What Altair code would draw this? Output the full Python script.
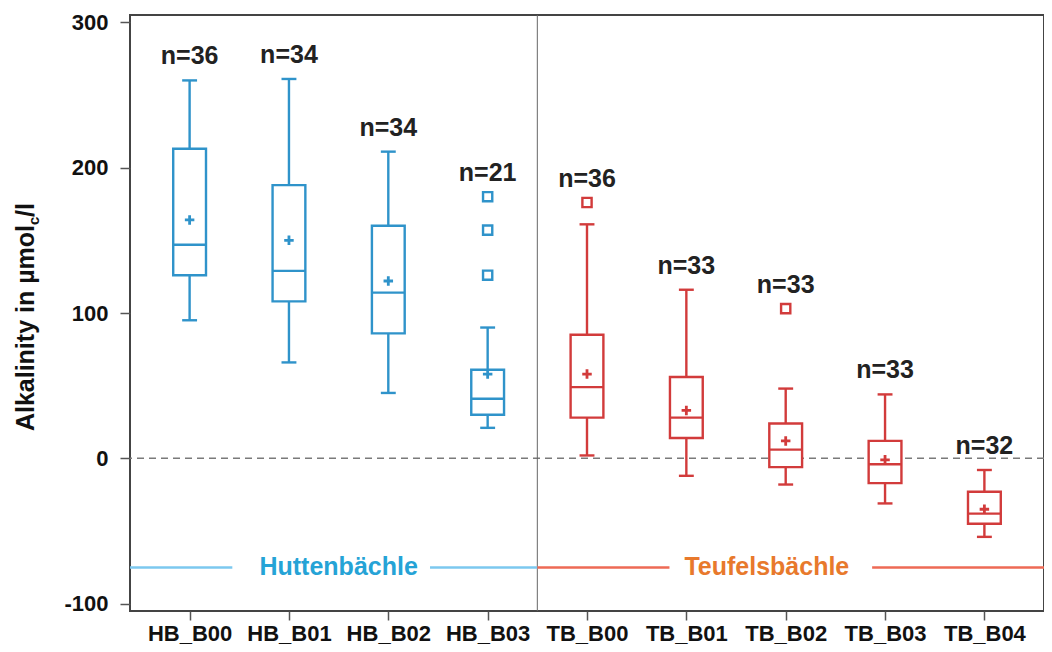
import json
import altair as alt
import pandas as pd

# ---------------- data ----------------
sites = ["HB_B00", "HB_B01", "HB_B02", "HB_B03",
         "TB_B00", "TB_B01", "TB_B02", "TB_B03", "TB_B04"]
stream = ["HB", "HB", "HB", "HB", "TB", "TB", "TB", "TB", "TB"]
n_obs = [36, 34, 34, 21, 36, 33, 33, 33, 32]
whisker_low = [95, 66, 45, 21, 2, -12, -18, -31, -54]
q1 = [126, 108, 86, 30, 28, 14, -6, -17, -45]
median = [147, 129, 114, 41, 49, 28, 6, -4, -38]
q3 = [213, 188, 160, 61, 85, 56, 24, 12, -23]
whisker_high = [260, 261, 211, 90, 161, 116, 48, 44, -8]
mean = [164, 150, 122, 58, 58, 33, 12, -1, -35]

outlier_site = ["HB_B03", "HB_B03", "HB_B03", "TB_B00", "TB_B02"]
outlier_value = [180, 157, 126, 176, 103]

stream_label = ["Huttenbächle", "Teufelsbächle"]
y_ticks = [-100, 0, 100, 200, 300]

# ---------------- styling ----------------
BLUE = "#2F93CA"
RED = "#D23B3B"
BLUE_LINE = "#7CC8EF"
RED_LINE = "#EE6A55"
BLUE_TEXT = "#25A3D6"
ORANGE_TEXT = "#E8792C"
FONT = "Liberation Sans"
BOX_HALF = 0.165
CAP_HALF = 0.075

# ---------------- tables ----------------
idx = list(range(len(sites)))
df = pd.DataFrame({
    "i": idx, "site": sites, "stream": stream, "n": n_obs,
    "lo": whisker_low, "q1": q1, "med": median, "q3": q3,
    "hi": whisker_high, "mean": mean,
})
out = pd.DataFrame({"site": outlier_site, "val": outlier_value})
out["i"] = out["site"].map({s: k for k, s in enumerate(sites)})
out["stream"] = out["site"].str[:2]
max_out = out.groupby("site")["val"].max()
df["top"] = [max(h, max_out.get(s, h)) for s, h in zip(sites, whisker_high)]
df["label"] = ["n=%d" % v for v in n_obs]

ref0 = pd.DataFrame({"y": [0]})
divider = pd.DataFrame({"x": [3.5]})
seg = pd.DataFrame({
    "x": [-0.6, 2.42, 3.5, 6.87],
    "x2": [0.43, 3.5, 4.83, 8.6],
    "y": [-75, -75, -75, -75],
    "col": [BLUE_LINE, BLUE_LINE, RED_LINE, RED_LINE],
})
grp = pd.DataFrame({
    "x": [1.5, 5.81], "y": [-75, -75],
    "name": stream_label, "col": [BLUE_TEXT, ORANGE_TEXT],
})

# ---------------- scales / axes ----------------
xscale = alt.Scale(domain=[-0.6, 8.6], nice=False, zero=False)
yscale = alt.Scale(domain=[-105, 305], nice=False, zero=False)
xaxis = alt.Axis(
    values=idx, labelExpr=json.dumps(sites) + "[datum.value]",
    title="", grid=False, domain=False, tickSize=9, tickColor="#555",
    tickWidth=1.5, labelFont=FONT, labelFontSize=22, labelFontWeight="bold",
    labelColor="#111", labelPadding=3,
)
yaxis = alt.Axis(
    values=y_ticks, labelExpr="'' + datum.value", title="", grid=False,
    domain=False, tickSize=10, tickColor="#555", tickWidth=1.5,
    labelFont=FONT, labelFontSize=22, labelFontWeight="bold",
    labelColor="#111", labelPadding=12,
)


def X(f):
    return alt.X(f, type="quantitative", scale=xscale, axis=xaxis)


def Y(f):
    return alt.Y(f, type="quantitative", scale=yscale, axis=yaxis)


col_scale = alt.Scale(domain=["HB", "TB"], range=[BLUE, RED])
color = alt.Color("stream:N", scale=col_scale, legend=None)
stroke = alt.Stroke("stream:N", scale=col_scale, legend=None)

base = alt.Chart(df).transform_calculate(
    bl="datum.i - %f" % BOX_HALF, br="datum.i + %f" % BOX_HALF,
    cl="datum.i - %f" % CAP_HALF, cr="datum.i + %f" % CAP_HALF,
)

zero_line = alt.Chart(ref0).mark_rule(
    color="#7a7a7a", strokeDash=[7, 5], strokeWidth=1.5
).encode(y=Y("y"))

div_line = alt.Chart(divider).mark_rule(color="#666", strokeWidth=1).encode(x=X("x"))

w_up = base.mark_rule(strokeWidth=2.4).encode(x=X("i"), y=Y("q3"), y2="hi", color=color)
w_lo = base.mark_rule(strokeWidth=2.4).encode(x=X("i"), y=Y("lo"), y2="q1", color=color)
cap_up = base.mark_rule(strokeWidth=2.4).encode(x=X("cl:Q"), x2="cr:Q", y=Y("hi"), color=color)
cap_lo = base.mark_rule(strokeWidth=2.4).encode(x=X("cl:Q"), x2="cr:Q", y=Y("lo"), color=color)
box = base.mark_rect(fill="white", strokeWidth=2.4).encode(
    x=X("bl:Q"), x2="br:Q", y=Y("q1"), y2="q3", stroke=stroke
)
med = base.mark_rule(strokeWidth=2.4).encode(x=X("bl:Q"), x2="br:Q", y=Y("med"), color=color)
mean_pt = base.mark_point(
    shape="M-1,0H1M0,-1V1", size=90, strokeWidth=2.8, filled=False, opacity=1
).encode(x=X("i"), y=Y("mean"), color=color)
outl = alt.Chart(out).mark_point(
    shape="square", size=85, strokeWidth=2.4, filled=False, opacity=1
).encode(x=X("i"), y=Y("val"), color=color)
ntext = base.mark_text(
    font=FONT, fontSize=25, fontWeight="bold", baseline="alphabetic",
    dy=-16, color="#222"
).encode(x=X("i"), y=Y("top"), text="label:N")

seg_lines = alt.Chart(seg).mark_rule(strokeWidth=2.5).encode(
    x=X("x"), x2="x2", y=Y("y"), color=alt.Color("col:N", scale=None)
)
grp_text = alt.Chart(grp).mark_text(
    font=FONT, fontSize=25, fontWeight="bold", baseline="middle"
).encode(x=X("x"), y=Y("y"), text="name:N", color=alt.Color("col:N", scale=None))

one = pd.DataFrame({"k": [0]})
t_main = alt.Chart(one).mark_text(
    font=FONT, fontSize=25, fontWeight="bold", angle=270, align="right",
    baseline="alphabetic", color="#111"
).encode(x=alt.value(-96), y=alt.value(210), text=alt.value("Alkalinity in µmol"))
t_sub = alt.Chart(one).mark_text(
    font=FONT, fontSize=15, fontWeight="bold", angle=270, align="left",
    baseline="alphabetic", dy=5, color="#111"
).encode(x=alt.value(-96), y=alt.value(210), text=alt.value("c"))
t_end = alt.Chart(one).mark_text(
    font=FONT, fontSize=25, fontWeight="bold", angle=270, align="left",
    baseline="alphabetic", dx=8, color="#111"
).encode(x=alt.value(-96), y=alt.value(210), text=alt.value("/l"))

chart = alt.layer(
    zero_line, div_line, seg_lines, grp_text,
    w_up, w_lo, cap_up, cap_lo, box, med, mean_pt, outl, ntext,
    t_main, t_sub, t_end,
).properties(
    width=914, height=596,
    autosize=alt.AutoSizeParams(type="none"),
    padding={"left": 122, "top": 7, "right": 0, "bottom": 33},
).configure(
    font=FONT, background="white"
).configure_view(
    stroke="#444", strokeWidth=2
)

chart.save("out.html", embed_options={"renderer": "svg", "actions": False})
